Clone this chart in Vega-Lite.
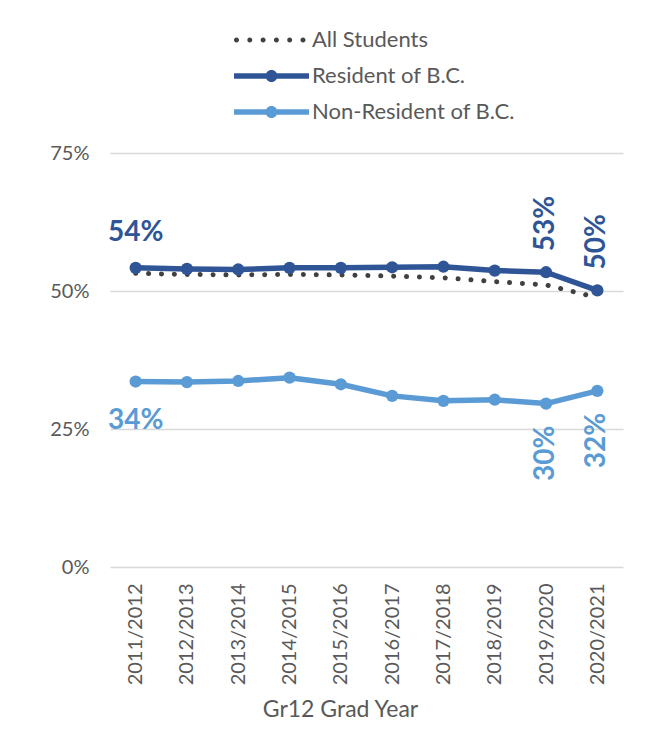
{
  "$schema": "https://vega.github.io/schema/vega-lite/v6.json",
  "width": 513,
  "height": 414,
  "autosize": {"type": "none"},
  "padding": {"left": 110, "top": 153, "right": 34, "bottom": 175},
  "background": "white",
  "config": {"font": "Lato", "view": {"stroke": null}},
  "data": {
    "values": [
      {"year": "2011/2012", "series": "All Students", "value": 0.532},
      {"year": "2012/2013", "series": "All Students", "value": 0.530},
      {"year": "2013/2014", "series": "All Students", "value": 0.529},
      {"year": "2014/2015", "series": "All Students", "value": 0.530},
      {"year": "2015/2016", "series": "All Students", "value": 0.529},
      {"year": "2016/2017", "series": "All Students", "value": 0.527},
      {"year": "2017/2018", "series": "All Students", "value": 0.524},
      {"year": "2018/2019", "series": "All Students", "value": 0.517},
      {"year": "2019/2020", "series": "All Students", "value": 0.511},
      {"year": "2020/2021", "series": "All Students", "value": 0.488},
      {"year": "2011/2012", "series": "Resident of B.C.", "value": 0.542, "label": "54%"},
      {"year": "2012/2013", "series": "Resident of B.C.", "value": 0.540},
      {"year": "2013/2014", "series": "Resident of B.C.", "value": 0.539},
      {"year": "2014/2015", "series": "Resident of B.C.", "value": 0.542},
      {"year": "2015/2016", "series": "Resident of B.C.", "value": 0.542},
      {"year": "2016/2017", "series": "Resident of B.C.", "value": 0.543},
      {"year": "2017/2018", "series": "Resident of B.C.", "value": 0.544},
      {"year": "2018/2019", "series": "Resident of B.C.", "value": 0.537},
      {"year": "2019/2020", "series": "Resident of B.C.", "value": 0.534, "label": "53%"},
      {"year": "2020/2021", "series": "Resident of B.C.", "value": 0.501, "label": "50%"},
      {"year": "2011/2012", "series": "Non-Resident of B.C.", "value": 0.336, "label": "34%"},
      {"year": "2012/2013", "series": "Non-Resident of B.C.", "value": 0.335},
      {"year": "2013/2014", "series": "Non-Resident of B.C.", "value": 0.337},
      {"year": "2014/2015", "series": "Non-Resident of B.C.", "value": 0.343},
      {"year": "2015/2016", "series": "Non-Resident of B.C.", "value": 0.331},
      {"year": "2016/2017", "series": "Non-Resident of B.C.", "value": 0.310},
      {"year": "2017/2018", "series": "Non-Resident of B.C.", "value": 0.301},
      {"year": "2018/2019", "series": "Non-Resident of B.C.", "value": 0.303},
      {"year": "2019/2020", "series": "Non-Resident of B.C.", "value": 0.296, "label": "30%"},
      {"year": "2020/2021", "series": "Non-Resident of B.C.", "value": 0.319, "label": "32%"}
    ]
  },
  "encoding": {
    "x": {
      "field": "year",
      "type": "ordinal",
      "scale": {"type": "point", "padding": 0.5},
      "axis": {
        "labelAngle": -90,
        "labelFontSize": 20,
        "labelColor": "#595959",
        "labelPadding": 16,
        "ticks": false,
        "domain": false,
        "grid": false,
        "title": "Gr12 Grad Year",
        "titleFontSize": 23,
        "titleFontWeight": "normal",
        "titleColor": "#595959",
        "titlePadding": 14,
        "titleX": 230
      }
    },
    "y": {
      "field": "value",
      "type": "quantitative",
      "scale": {"domain": [0, 0.75]},
      "axis": {
        "values": [0, 0.25, 0.5, 0.75],
        "format": ".0%",
        "labelFontSize": 20,
        "labelColor": "#595959",
        "labelPadding": 21,
        "grid": true,
        "gridColor": "#d9d9d9",
        "gridWidth": 1.5,
        "domain": false,
        "ticks": false,
        "title": null
      }
    }
  },
  "layer": [
    {
      "transform": [{"filter": "datum.series == 'All Students'"}],
      "mark": {"type": "line", "color": "#404040", "strokeWidth": 5, "strokeDash": [0.1, 12.8], "strokeCap": "round"}
    },
    {
      "transform": [{"filter": "datum.series == 'Resident of B.C.'"}],
      "mark": {"type": "line", "color": "#2F5597", "strokeWidth": 5.5, "strokeCap": "round", "strokeJoin": "round"}
    },
    {
      "transform": [{"filter": "datum.series == 'Resident of B.C.'"}],
      "mark": {"type": "point", "filled": true, "size": 150, "color": "#2F5597", "opacity": 1}
    },
    {
      "transform": [{"filter": "datum.series == 'Non-Resident of B.C.'"}],
      "mark": {"type": "line", "color": "#5B9BD5", "strokeWidth": 5.5, "strokeCap": "round", "strokeJoin": "round"}
    },
    {
      "transform": [{"filter": "datum.series == 'Non-Resident of B.C.'"}],
      "mark": {"type": "point", "filled": true, "size": 150, "color": "#5B9BD5", "opacity": 1}
    },
    {
      "transform": [{"filter": "datum.series == 'Resident of B.C.' && datum.year == '2011/2012'"}],
      "mark": {"type": "text", "fontSize": 28, "fontWeight": "bold", "color": "#2F5597", "dy": -35, "align": "center", "baseline": "middle"},
      "encoding": {"text": {"field": "label"}}
    },
    {
      "transform": [{"filter": "datum.series == 'Non-Resident of B.C.' && datum.year == '2011/2012'"}],
      "mark": {"type": "text", "fontSize": 28, "fontWeight": "bold", "color": "#5B9BD5", "dy": 39, "align": "center", "baseline": "middle"},
      "encoding": {"text": {"field": "label"}}
    },
    {
      "transform": [{"filter": "datum.series == 'Resident of B.C.' && datum.label != null && datum.year != '2011/2012'"}],
      "mark": {"type": "text", "fontSize": 28, "fontWeight": "bold", "color": "#2F5597", "angle": 270, "dx": 21, "align": "left", "baseline": "middle"},
      "encoding": {"text": {"field": "label"}}
    },
    {
      "transform": [{"filter": "datum.series == 'Non-Resident of B.C.' && datum.label != null && datum.year != '2011/2012'"}],
      "mark": {"type": "text", "fontSize": 28, "fontWeight": "bold", "color": "#5B9BD5", "angle": 270, "dx": -22, "align": "right", "baseline": "middle"},
      "encoding": {"text": {"field": "label"}}
    },
    {
      "transform": [{"filter": "datum.year == '2011/2012'"}],
      "mark": {"type": "point", "filled": true, "size": 0},
      "encoding": {
        "shape": {
          "field": "series",
          "type": "nominal",
          "scale": {
            "domain": ["All Students", "Resident of B.C.", "Non-Resident of B.C."],
            "range": [
              "M-3.75,0A0.25,0.25,0,1,1,-3.25,0A0.25,0.25,0,1,1,-3.75,0Z M-2.42,0A0.25,0.25,0,1,1,-1.92,0A0.25,0.25,0,1,1,-2.42,0Z M-1.09,0A0.25,0.25,0,1,1,-0.59,0A0.25,0.25,0,1,1,-1.09,0Z M0.24,0A0.25,0.25,0,1,1,0.74,0A0.25,0.25,0,1,1,0.24,0Z M1.57,0A0.25,0.25,0,1,1,2.07,0A0.25,0.25,0,1,1,1.57,0Z M2.9,0A0.25,0.25,0,1,1,3.4,0A0.25,0.25,0,1,1,2.9,0Z",
              "M-3.75,-0.285L3.75,-0.285L3.75,0.285L-3.75,0.285Z M-0.6,0A0.6,0.6,0,1,1,0.6,0A0.6,0.6,0,1,1,-0.6,0Z",
              "M-3.75,-0.285L3.75,-0.285L3.75,0.285L-3.75,0.285Z M-0.6,0A0.6,0.6,0,1,1,0.6,0A0.6,0.6,0,1,1,-0.6,0Z"
            ]
          },
          "legend": {
            "orient": "none",
            "legendX": 150.5,
            "legendY": -124,
            "title": null,
            "direction": "vertical",
            "labelFontSize": 22,
            "labelColor": "#595959",
            "labelLimit": 400,
            "symbolSize": 400,
            "symbolOpacity": 1,
            "symbolStrokeWidth": 0,
            "labelOffset": 29.5,
            "rowPadding": 14,
            "padding": 0
          }
        },
        "color": {
          "field": "series",
          "type": "nominal",
          "scale": {
            "domain": ["All Students", "Resident of B.C.", "Non-Resident of B.C."],
            "range": ["#404040", "#2F5597", "#5B9BD5"]
          },
          "legend": {
            "orient": "none",
            "legendX": 150.5,
            "legendY": -124,
            "title": null,
            "direction": "vertical",
            "labelFontSize": 22,
            "labelColor": "#595959",
            "labelLimit": 400,
            "symbolSize": 400,
            "symbolOpacity": 1,
            "symbolStrokeWidth": 0,
            "labelOffset": 29.5,
            "rowPadding": 14,
            "padding": 0
          }
        }
      }
    }
  ]
}
